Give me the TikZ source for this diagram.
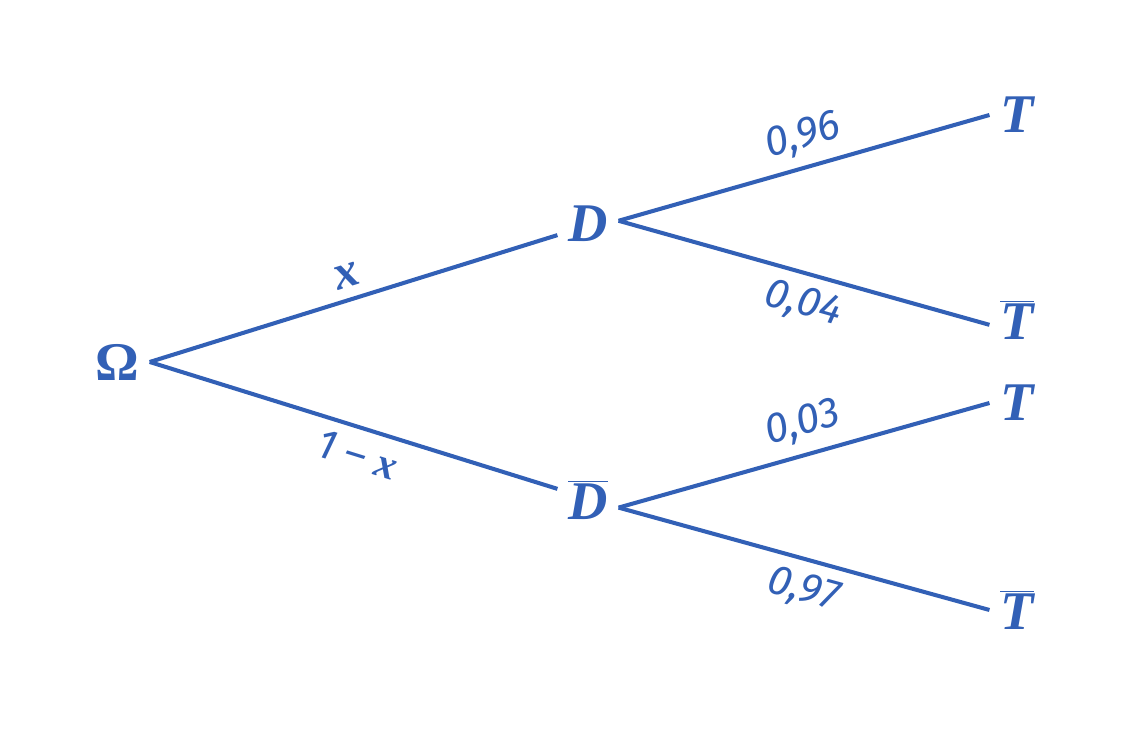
\documentclass[tikz,border=0pt]{standalone}
\usepackage{fontspec}
\setmainfont{Liberation Serif}
\newfontfamily\labfont{Fira Sans}
\usetikzlibrary{positioning}
\definecolor{treeblue}{RGB}{50,96,182}
\newcommand{\ev}[1]{\fontsize{31}{36}\selectfont\bfseries\itshape #1}
\newcommand{\pr}[1]{\fontsize{24}{28}\selectfont\labfont\itshape #1}

\begin{document}
\begin{tikzpicture}[every node/.style={text=treeblue}, branch/.style={draw=treeblue, line width=2.3pt}, event/.style={inner sep=6pt}, prob/.style={sloped, pos=0.52, inner sep=6pt}]
\useasboundingbox (0,0) rectangle (22.62,14.82);
\node[event](O) at (2.34,7.58) {\ev{\upshape Ω}};
\node[event](D) at (11.76,10.34) {\ev{D}};
\node[event](Db) at (11.76,4.82) {\ev{$\overline{\mbox{D}}$}};
\node[event](T1) at (20.34,12.52) {\ev{T}};
\node[event](Tb1) at (20.34,8.42) {\ev{$\overline{\mbox{T}}$}};
\node[event](T2) at (20.34,6.76) {\ev{T}};
\node[event](Tb2) at (20.34,2.62) {\ev{$\overline{\mbox{T}}$}};

\draw[branch] (O.east) -- node[prob, above, pos=0.5] {\ev{\fontsize{28}{30}\selectfont x}} (D.200);
\draw[branch] (O.east) -- node[prob, below, pos=0.53] {\pr{1 – \textbf{\textrm{x}}}} (Db.160);
\draw[branch] (D.6) -- node[prob, above] {\pr{0,96}} (T1.west);
\draw[branch] (D.6) -- node[prob, below] {\pr{0,04}} (Tb1.190);
\draw[branch] (Db.-14) -- node[prob, above] {\pr{0,03}} (T2.west);
\draw[branch] (Db.-14) -- node[prob, below] {\pr{0,97}} (Tb2.west);
\end{tikzpicture}
\end{document}
